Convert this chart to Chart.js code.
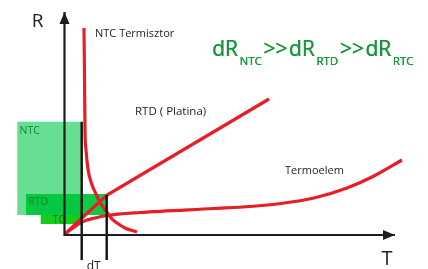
<!DOCTYPE html>
<html><head><meta charset="utf-8">
<script src="https://cdn.jsdelivr.net/npm/chart.js@4/dist/chart.umd.min.js"></script>
<style>html,body{margin:0;padding:0;background:#fff;overflow:hidden}#wrap{width:428px;height:269px}</style>
</head><body><div id="wrap"><canvas id="c" width="428" height="269"></canvas></div>
<script>
// Schematic R(T) curves, T and R in arbitrary units (origin at the axis crossing)
const ntcT = [19.5, 20.0, 20.5, 21.5, 23.5, 26.5, 31.5, 36.5, 42.2, 47.5, 52.5, 60.5, 72.5];
const ntcR = [207, 160, 105, 85, 66, 53, 41, 31, 23, 16, 12, 7, 3];
const rtdT = [0.5, 17.5, 42.5, 204.5];
const rtdR = [1, 17, 40, 136];
const tcT = [0.5, 8.5, 17.5, 30.5, 42.5, 75.5, 149.5, 185.5, 216.5, 249.5, 282.5, 309.5, 337.5];
const tcR = [1, 7, 13, 17, 19.5, 22.5, 26.5, 28.5, 31.5, 37, 47, 59, 75];
// axes and dT markers
const axisT = [0, 0, 330.5];
const axisR = [223, 0, 0];
const dT1 = [17.2, 17.2], dT1R = [113.3, -25];
const dT2 = [42.2, 42.2], dT2R = [40, -25];
// sensitivity bands [Tmin, Tmax, Rmin, Rmax]
const bandNames = ['NTC', 'RTD', 'TC'];
const bandT0 = [-47.2, -38.5, -23.8];
const bandT1 = [17.2, 42.2, 17.2];
const bandR0 = [20, 20, 11];
const bandR1 = [113.3, 41, 20];

const pts = (xs, ys) => xs.map((x, i) => ({x, y: ys[i]}));
const RED = 'rgb(232,30,38)';

const bandPlugin = {
  id: 'bands',
  beforeDatasetsDraw(chart) {
    const {ctx, scales: {x, y}} = chart;
    const fills = ['rgba(96,220,140,0.95)', 'rgba(0,200,60,0.95)', 'rgba(20,205,30,1)'];
    ctx.save();
    for (let i = 0; i < bandNames.length; i++) {
      const l = x.getPixelForValue(bandT0[i]), r = x.getPixelForValue(bandT1[i]);
      const t = y.getPixelForValue(bandR1[i]), b = y.getPixelForValue(bandR0[i]);
      ctx.fillStyle = fills[i];
      ctx.fillRect(l, t, r - l, b - t);
    }
    ctx.restore();
  }
};

const textPlugin = {
  id: 'texts',
  afterDatasetsDraw(chart) {
    const {ctx, scales: {x, y}} = chart;
    ctx.save();
    // arrowheads
    const ax = chart.data.datasets[0].data;
    const heads = [[ax[1], ax[0]], [ax[1], ax[2]]];
    ctx.fillStyle = '#1e1e1e';
    heads.forEach(([p0, p1]) => {
      const x0 = x.getPixelForValue(p0.x), y0 = y.getPixelForValue(p0.y);
      const x1 = x.getPixelForValue(p1.x), y1 = y.getPixelForValue(p1.y);
      const a = Math.atan2(y1 - y0, x1 - x0);
      const L = 12, W = 5;
      ctx.beginPath();
      ctx.moveTo(x1, y1);
      ctx.lineTo(x1 - L * Math.cos(a) + W * Math.sin(a), y1 - L * Math.sin(a) - W * Math.cos(a));
      ctx.lineTo(x1 - L * Math.cos(a) - W * Math.sin(a), y1 - L * Math.sin(a) + W * Math.cos(a));
      ctx.closePath();
      ctx.fill();
    });
    // labels
    const labels = [
      {t: 'R', x: -27, y: 213.5, f: '19px "Open Sans"', c: '#1e1e1e', a: 'center'},
      {t: 'T', x: 322.5, y: -24, f: '20px "Open Sans"', c: '#1e1e1e', a: 'center'},
      {t: 'NTC Termisztor', x: 30.5, y: 201.5, f: '11px "Open Sans"', c: '#1e1e1e', a: 'left'},
      {t: 'RTD ( Platina)', x: 70.5, y: 123, f: '11.5px "Open Sans"', c: '#1e1e1e', a: 'left'},
      {t: 'Termoelem', x: 220.5, y: 64, f: '11px "Open Sans"', c: '#1e1e1e', a: 'left'},
      {t: 'NTC', x: -45, y: 104, f: '10.5px "Open Sans"', c: '#128a3a', a: 'left'},
      {t: 'RTD', x: -36.2, y: 33, f: '10.5px "Open Sans"', c: '#1a7a30', a: 'left'},
      {t: 'TC', x: -11.8, y: 15.3, f: '10.5px "Open Sans"', c: '#2a6a2a', a: 'left'},
      {t: 'dT', x: 22.2, y: -32, f: '12px "Open Sans"', c: '#1e1e1e', a: 'left'}
    ];
    ctx.textBaseline = 'middle';
    labels.forEach(l => {
      ctx.font = l.f; ctx.fillStyle = l.c; ctx.textAlign = l.a;
      ctx.fillText(l.t, x.getPixelForValue(l.x), y.getPixelForValue(l.y));
    });
    // formula dR_NTC >> dR_RTD >> dR_RTC
    const parts = [['dR', 0], ['NTC', 1], ['>>', 0], ['dR', 0], ['RTD', 1], ['>>', 0], ['dR', 0], ['RTC', 1]];
    let px = x.getPixelForValue(147.5);
    const base = y.getPixelForValue(179);
    ctx.textAlign = 'left'; ctx.textBaseline = 'alphabetic';
    ctx.fillStyle = 'rgb(24,150,62)';
    parts.forEach(([s, sub]) => {
      ctx.font = sub ? '11.5px "Open Sans"' : '21px "Open Sans"';
      ctx.fillText(s, px, base + (sub ? 8.5 : 0));
      ctx.fillText(s, px + 0.4, base + (sub ? 8.5 : 0));
      px += ctx.measureText(s).width + 1.6;
    });
    ctx.restore();
  }
};

function build() {
  new Chart(document.getElementById('c'), {
    type: 'scatter',
    data: {
      datasets: [
        {data: pts(axisT, axisR), showLine: true, borderColor: '#1e1e1e', borderWidth: 2.2, pointRadius: 0, tension: 0, order: 1},
        {data: pts(dT1, dT1R), showLine: true, borderColor: '#111', borderWidth: 2.4, pointRadius: 0, order: 1},
        {data: pts(dT2, dT2R), showLine: true, borderColor: '#111', borderWidth: 2.4, pointRadius: 0, order: 1},
        {data: pts(ntcT, ntcR), showLine: true, borderColor: RED, borderWidth: 3.2, pointRadius: 0, cubicInterpolationMode: 'monotone', order: 2},
        {data: pts(rtdT, rtdR), showLine: true, borderColor: RED, borderWidth: 3.2, pointRadius: 0, tension: 0, order: 2},
        {data: pts(tcT, tcR), showLine: true, borderColor: RED, borderWidth: 3.2, pointRadius: 0, cubicInterpolationMode: 'monotone', order: 2}
      ]
    },
    options: {
      responsive: false, animation: false, devicePixelRatio: 1,
      layout: {padding: 0},
      plugins: {legend: {display: false}, tooltip: {enabled: false}},
      scales: {
        x: {type: 'linear', display: false, min: -64.5, max: 363.5},
        y: {type: 'linear', display: false, min: -34, max: 235}
      }
    },
    plugins: [bandPlugin, textPlugin]
  });
}
Promise.all([document.fonts.load('21px "Open Sans"'), document.fonts.load('11px "Open Sans"')]).then(build, build);
</script></body></html>
